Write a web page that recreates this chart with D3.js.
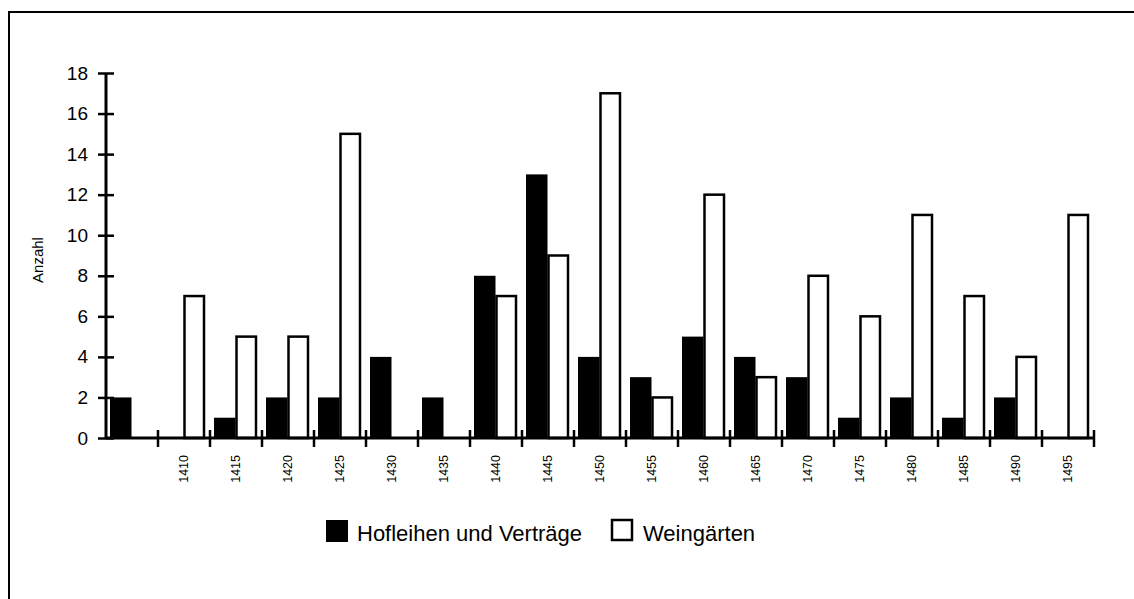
<!DOCTYPE html>
<html>
<head>
<meta charset="utf-8">
<script src="https://cdn.jsdelivr.net/npm/d3@7"></script>
<style>
    body { margin: 0; background: #fff; }
    svg { display: block; font-family: "Liberation Sans", Arial, Helvetica, sans-serif; }
</style>
</head>
<body>
<script>
// data
const years = ["1405", "1410", "1415", "1420", "1425", "1430", "1435", "1440", "1445", "1450",
    "1455", "1460", "1465", "1470", "1475", "1480", "1485", "1490", "1495"];
const yearLabels = ["", "1410", "1415", "1420", "1425", "1430", "1435", "1440", "1445", "1450",
    "1455", "1460", "1465", "1470", "1475", "1480", "1485", "1490", "1495"];
const hofleihen = [2, 0, 1, 2, 2, 4, 2, 8, 13, 4, 3, 5, 4, 3, 1, 2, 1, 2, 0];
const weingaerten = [0, 7, 5, 5, 15, 0, 0, 7, 9, 17, 2, 12, 3, 8, 6, 11, 7, 4, 11];
const yTicks = [0, 2, 4, 6, 8, 10, 12, 14, 16, 18];

const series = [
    { key: "hof", name: "Hofleihen und Verträge", values: hofleihen, fill: "#000" },
    { key: "wein", name: "Weingärten", values: weingaerten, fill: "#fff" },
];

const width = 1134, height = 599;
const plotLeft = 106, plotRight = 1094, plotTop = 73, plotBottom = 438;

const svg = d3.select("body").append("svg")
    .attr("width", width)
    .attr("height", height);

// frame
svg.append("rect")
    .attr("x", 9).attr("y", 12)
    .attr("width", 1200).attr("height", 700)
    .attr("fill", "none").attr("stroke", "#000").attr("stroke-width", 2);

const x0 = d3.scaleBand().domain(years).range([plotLeft, plotRight]).padding(0);
const x1 = d3.scaleBand().domain(series.map(s => s.key)).range([4, 47]).padding(0);
const y = d3.scaleLinear().domain([0, 18]).range([plotBottom, plotTop]);

// bars
const groups = svg.append("g").selectAll("g")
    .data(years)
    .enter().append("g")
    .attr("transform", d => `translate(${x0(d)},0)`);

groups.selectAll("rect")
    .data((d, i) => series.map(s => ({ key: s.key, v: s.values[i], fill: s.fill })))
    .enter().append("rect")
    .attr("x", d => x1(d.key) + (d.fill === "#fff" ? 1 : 0))
    .attr("width", d => x1.bandwidth() - (d.fill === "#fff" ? 2 : 0))
    .attr("y", d => y(d.v))
    .attr("height", d => y(0) - y(d.v))
    .attr("fill", d => d.fill)
    .attr("stroke", "#000")
    .attr("stroke-width", d => d.fill === "#fff" ? 2.5 : 0);

// y axis
const yAxis = svg.append("g")
    .attr("transform", `translate(${plotLeft},0)`)
    .call(d3.axisLeft(y).tickValues(yTicks).tickSize(8).tickPadding(10));
yAxis.select(".domain").attr("stroke-width", 3).attr("d", `M0,${plotBottom}V${plotTop}`);
yAxis.selectAll(".tick line").attr("x1", -8).attr("x2", 8).attr("stroke-width", 2.5);
yAxis.selectAll(".tick text")
    .attr("x", -18)
    .style("font-size", "19px")
    .attr("fill", "#000");

svg.append("text")
    .attr("transform", `translate(43,260) rotate(-90)`)
    .attr("text-anchor", "middle")
    .style("font-size", "15px")
    .text("Anzahl");

// x axis
const xAxis = svg.append("g")
    .attr("transform", `translate(0,${plotBottom})`)
    .call(d3.axisBottom(x0).tickSize(0).tickFormat((d, i) => yearLabels[i]));
xAxis.select(".domain").attr("stroke-width", 3).attr("d", `M${plotLeft},0H${plotRight}`);
xAxis.selectAll(".tick text")
    .attr("transform", "rotate(-90)")
    .attr("x", -17)
    .attr("y", 0)
    .attr("dy", "0.35em")
    .attr("text-anchor", "end")
    .style("font-size", "12.5px")
    .attr("fill", "#000");

// boundary ticks between the year groups
const bounds = years.map(d => x0(d)).concat([plotRight]);
xAxis.append("g").selectAll("line")
    .data(bounds.slice(1))
    .enter().append("line")
    .attr("x1", d => d).attr("x2", d => d)
    .attr("y1", -8).attr("y2", 9)
    .attr("stroke", "#000").attr("stroke-width", 2.5);

// legend
const legendPos = [{ sx: 326, tx: 357 }, { sx: 611, tx: 643 }];
const legend = svg.append("g").selectAll("g")
    .data(series)
    .enter().append("g");

legend.append("rect")
    .attr("x", (d, i) => legendPos[i].sx + (d.fill === "#fff" ? 1 : 0))
    .attr("y", 520)
    .attr("width", d => d.fill === "#fff" ? 20 : 22)
    .attr("height", d => d.fill === "#fff" ? 20 : 22)
    .attr("fill", d => d.fill)
    .attr("stroke", "#000")
    .attr("stroke-width", d => d.fill === "#fff" ? 2.5 : 0);

legend.append("text")
    .attr("x", (d, i) => legendPos[i].tx)
    .attr("y", 541)
    .style("font-size", "22px")
    .text(d => d.name);
</script>
</body>
</html>
